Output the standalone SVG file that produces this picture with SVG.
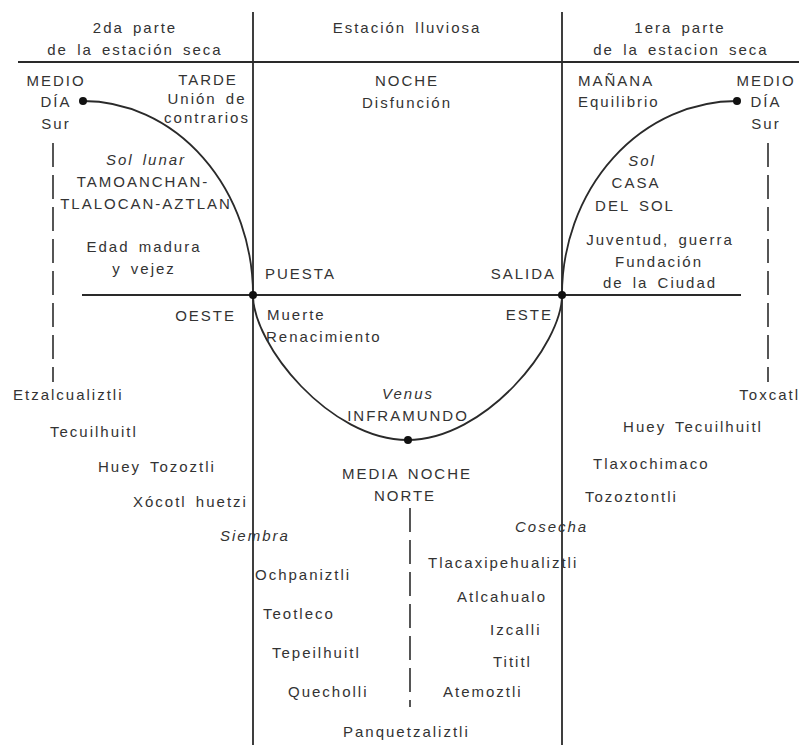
<svg xmlns="http://www.w3.org/2000/svg" width="801" height="745" viewBox="0 0 801 745">
<style>
text{font-family:"Liberation Sans",Arial,sans-serif;font-size:15px;letter-spacing:2px;word-spacing:3px;fill:#333}
.m{text-anchor:middle}.e{text-anchor:end}.i{font-style:italic}
.ln{stroke:#2a2a2a;stroke-width:1.8;fill:none}
.ds{stroke:#444;stroke-width:1.8;fill:none;stroke-dasharray:24 8}
.dot{fill:#111}
</style>
<rect width="801" height="745" fill="#fff"/>
<g id="connectors">
<line class="ln" x1="253" y1="12" x2="253" y2="745"/>
<line class="ln" x1="562" y1="12" x2="562" y2="745"/>
<line class="ln" x1="18" y1="62" x2="799" y2="62"/>
<line class="ln" x1="82" y1="295" x2="741" y2="295"/>
<path class="ln" d="M83,101 A170,194 0 0 1 253,295"/>
<path class="ln" d="M562,295 A175,194 0 0 1 737,101"/>
<path class="ln" d="M253,295 C253,345 330,440 407.5,440 C485,440 562,345 562,295"/>
<line class="ds" x1="53" y1="143" x2="53" y2="382"/>
<line class="ds" x1="768" y1="143" x2="768" y2="382"/>
<line class="ds" x1="410" y1="508" x2="410" y2="707"/>
<circle class="dot" cx="83" cy="101" r="4"/>
<circle class="dot" cx="737" cy="101" r="4"/>
<circle class="dot" cx="253" cy="295" r="4"/>
<circle class="dot" cx="562" cy="295" r="4"/>
<circle class="dot" cx="408" cy="440" r="4"/>
</g>
<g id="header">
<text class="m" x="135" y="33">2da parte</text>
<text class="m" x="135" y="55">de la estación seca</text>
<text class="m" x="407" y="33">Estación lluviosa</text>
<text class="m" x="680" y="33">1era parte</text>
<text class="m" x="681" y="55">de la estacion seca</text>
</g>
<g id="medio-dia-oeste">
<text class="m" x="56" y="86">MEDIO</text>
<text class="m" x="56" y="107">DÍA</text>
<text class="m" x="56" y="129">Sur</text>
</g>
<g id="tarde">
<text class="m" x="208" y="85">TARDE</text>
<text class="m" x="207" y="104">Unión de</text>
<text class="m" x="207" y="123">contrarios</text>
</g>
<g id="noche">
<text class="m" x="407" y="86">NOCHE</text>
<text class="m" x="407" y="108">Disfunción</text>
</g>
<g id="manana">
<text x="578" y="86">MAÑANA</text>
<text x="578" y="107">Equilibrio</text>
</g>
<g id="medio-dia-este">
<text class="m" x="766" y="86">MEDIO</text>
<text class="m" x="766" y="107">DÍA</text>
<text class="m" x="766" y="129">Sur</text>
</g>
<g id="sol-lunar">
<text class="m i" x="146" y="165">Sol lunar</text>
<text class="m" x="143" y="187">TAMOANCHAN-</text>
<text class="m" x="146" y="209">TLALOCAN-AZTLAN</text>
<text class="m" x="144" y="252">Edad madura</text>
<text class="m" x="144" y="274">y vejez</text>
</g>
<g id="sol">
<text class="m i" x="642" y="166">Sol</text>
<text class="m" x="636" y="188">CASA</text>
<text class="m" x="635" y="211">DEL SOL</text>
<text class="m" x="660" y="245">Juventud, guerra</text>
<text class="m" x="659" y="267">Fundación</text>
<text class="m" x="660" y="288">de la Ciudad</text>
</g>
<g id="puesta">
<text x="265" y="279">PUESTA</text>
<text class="e" x="236" y="321">OESTE</text>
<text x="267" y="320">Muerte</text>
<text x="266" y="342">Renacimiento</text>
</g>
<g id="salida">
<text class="e" x="556" y="279">SALIDA</text>
<text class="e" x="553" y="320">ESTE</text>
</g>
<g id="inframundo">
<text class="m i" x="408" y="399">Venus</text>
<text class="m" x="408" y="421">INFRAMUNDO</text>
<text class="m" x="407" y="479">MEDIA NOCHE</text>
<text class="m" x="405" y="501">NORTE</text>
</g>
<g id="meses-oeste">
<text x="13" y="400">Etzalcualiztli</text>
<text x="50" y="437">Tecuilhuitl</text>
<text x="98" y="472">Huey Tozoztli</text>
<text x="133" y="507">Xócotl huetzi</text>
<text class="i" x="220" y="541">Siembra</text>
</g>
<g id="meses-este">
<text class="e" x="800" y="400">Toxcatl</text>
<text class="m" x="693" y="432">Huey Tecuilhuitl</text>
<text x="593" y="469">Tlaxochimaco</text>
<text x="585" y="502">Tozoztontli</text>
</g>
<g id="meses-norte">
<text class="i" x="515" y="532">Cosecha</text>
<text x="428" y="568">Tlacaxipehualiztli</text>
<text x="255" y="580">Ochpaniztli</text>
<text x="457" y="602">Atlcahualo</text>
<text x="263" y="619">Teotleco</text>
<text x="490" y="635">Izcalli</text>
<text x="272" y="658">Tepeilhuitl</text>
<text x="493" y="667">Tititl</text>
<text x="288" y="697">Quecholli</text>
<text x="443" y="697">Atemoztli</text>
<text x="343" y="737">Panquetzaliztli</text>
</g>
</svg>
